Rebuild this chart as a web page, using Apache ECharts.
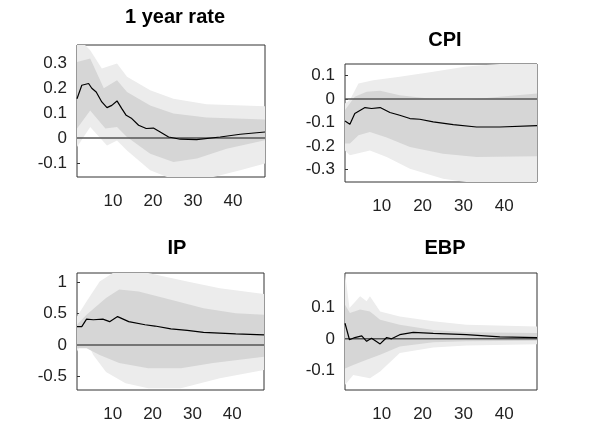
<!DOCTYPE html>
<html><head><meta charset="utf-8">
<script src="https://cdn.jsdelivr.net/npm/echarts@6/dist/echarts.min.js"></script>
<style>html,body{margin:0;padding:0;background:#fff}#c{width:593px;height:438px}</style>
</head><body><div id="c"></div>
<script>
var titles = ['1 year rate', 'CPI', 'IP', 'EBP'];
var xTicks = [10, 20, 30, 40];
var yTicks = [[-0.1, 0, 0.1, 0.2, 0.3], [-0.3, -0.2, -0.1, 0, 0.1], [-0.5, 0, 0.5, 1], [-0.1, 0, 0.1]];
var yRange = [[-0.157, 0.374], [-0.354, 0.15], [-0.718, 1.144], [-0.161, 0.207]];

// [horizon, value]
var rateLine = [[1,0.158],[2.2,0.212],[3.9,0.219],[4.7,0.2],[5.8,0.185],[7.2,0.145],[8.5,0.122],[9.7,0.131],[11,0.149],[12.2,0.118],[13.3,0.091],[14.7,0.078],[16.4,0.051],[18.3,0.038],[20.1,0.04],[21.8,0.024],[23.9,0.004],[26.8,-0.005],[30.9,-0.007],[36.8,0.004],[41.8,0.015],[48,0.024]];
var rateOutUp = [[1,0.374],[3,0.374],[4.3,0.353],[7.2,0.279],[11,0.3],[13.5,0.246],[19.3,0.192],[25.1,0.158],[33.4,0.136],[48,0.128]];
var rateInUp = [[1,0.306],[4.3,0.32],[7.7,0.2],[11,0.232],[13.5,0.185],[19.3,0.131],[25.1,0.098],[33.4,0.082],[48,0.074]];
var rateInLo = [[1,0.038],[4.3,0.111],[8.1,0.038],[11,0.044],[13.5,0.004],[19.3,-0.063],[25.1,-0.097],[31,-0.083],[38.4,-0.043],[48,-0.009]];
var rateOutLo = [[1,-0.036],[4.3,0.044],[8.5,-0.03],[11,-0.01],[13.5,-0.05],[19.3,-0.13],[23.5,-0.157],[35.1,-0.157],[41.8,-0.13],[48,-0.103]];

var cpiLine = [[1,-0.093],[2.2,-0.107],[3.4,-0.061],[5.9,-0.036],[7.5,-0.04],[9.6,-0.036],[12,-0.057],[14.4,-0.069],[16.9,-0.083],[19.3,-0.086],[22.6,-0.097],[27.5,-0.109],[33.2,-0.119],[38.9,-0.119],[48,-0.113]];
var cpiOutUp = [[1,-0.019],[2.2,-0.004],[4.3,0.067],[7.9,0.081],[14.4,0.096],[22.6,0.117],[30.7,0.139],[38.9,0.15],[48,0.15]];
var cpiInUp = [[1,-0.047],[3.4,0.01],[6.3,0.031],[9.6,0.036],[14.4,0.017],[22.6,0],[30.7,-0.004],[38.9,0.01],[48,0.024]];
var cpiInLo = [[1,-0.19],[2.2,-0.19],[4.3,-0.154],[7.1,-0.14],[11.2,-0.164],[16.9,-0.204],[25,-0.233],[33.2,-0.247],[48,-0.244]];
var cpiOutLo = [[1,-0.219],[2.2,-0.24],[7.1,-0.219],[11.2,-0.247],[16.9,-0.297],[25,-0.34],[30.7,-0.354],[48,-0.354]];

var ipLine = [[1,0.29],[2.2,0.29],[3.4,0.41],[5.1,0.4],[7.5,0.41],[9.2,0.37],[11.2,0.45],[14,0.37],[18.1,0.32],[20.6,0.3],[24.6,0.255],[28.7,0.23],[32.8,0.2],[40.9,0.175],[48,0.16]];
var ipOutUp = [[1,0.45],[3.4,0.69],[6.7,1.01],[10,1.144],[18.9,1.144],[28.7,1.01],[36.9,0.9],[48,0.81]];
var ipInUp = [[1,0.32],[3.4,0.48],[8.3,0.745],[11.6,0.88],[16.5,0.85],[24.6,0.72],[32.8,0.585],[40.9,0.505],[48,0.48]];
var ipInLo = [[1,-0.053],[3.4,-0.053],[6.7,-0.16],[11.6,-0.29],[18.9,-0.37],[27.1,-0.37],[35.2,-0.29],[48,-0.19]];
var ipOutLo = [[1,-0.106],[3,0.117],[5.1,-0.16],[8.3,-0.43],[13.2,-0.61],[18.9,-0.69],[27.1,-0.69],[36.9,-0.53],[48,-0.4]];

var ebpLine = [[1,0.049],[2.1,-0.003],[3.4,0.004],[5.1,0.009],[6.3,-0.008],[7.5,0.002],[9.6,-0.016],[11.2,0.004],[12.4,0],[14.4,0.013],[17.7,0.02],[22.6,0.017],[30.7,0.013],[38.9,0.006],[48,0.004]];
var ebpOutUp = [[1,0.207],[2.1,0.097],[4.7,0.134],[6.3,0.118],[7.1,0.134],[9.6,0.086],[14.4,0.07],[22.6,0.055],[30.7,0.044],[48,0.039]];
var ebpInUp = [[1,0.107],[2.2,0.081],[4.7,0.092],[7.1,0.086],[9.6,0.06],[14.4,0.044],[22.6,0.028],[30.7,0.021],[48,0.018]];
var ebpInLo = [[1,-0.093],[3,-0.082],[6.3,-0.066],[9.6,-0.05],[14.4,-0.024],[22.6,-0.011],[30.7,-0.008],[48,-0.006]];
var ebpOutLo = [[1,-0.145],[3,-0.114],[7.1,-0.124],[9.6,-0.103],[14.4,-0.045],[22.6,-0.027],[30.7,-0.021],[48,-0.017]];

var panels = [
  [rateLine, rateOutUp, rateInUp, rateInLo, rateOutLo],
  [cpiLine, cpiOutUp, cpiInUp, cpiInLo, cpiOutLo],
  [ipLine, ipOutUp, ipInUp, ipInLo, ipOutLo],
  [ebpLine, ebpOutUp, ebpInUp, ebpInLo, ebpOutLo]
];
var grids = [
  {left: 77, top: 45, width: 188, height: 132},
  {left: 345, top: 64, width: 192, height: 118},
  {left: 77, top: 273, width: 187, height: 117},
  {left: 345, top: 273, width: 192, height: 117}
];
var titlePos = [[170, 2], [440, 25], [172, 233], [440, 233]];
var font = 'Liberation Sans';

function band(idx, up, lo, color) {
  return {
    type: 'custom', xAxisIndex: idx, yAxisIndex: idx, silent: true, clip: true,
    data: [0],
    renderItem: function (params, api) {
      var pts = up.map(function (p) { return api.coord(p); });
      lo.slice().reverse().forEach(function (p) { pts.push(api.coord(p)); });
      return {type: 'polygon', shape: {points: pts}, style: {fill: color}};
    }
  };
}

var option = {grid: [], xAxis: [], yAxis: [], series: [], title: [], animation: false};
panels.forEach(function (p, i) {
  option.grid.push(Object.assign({show: true, borderColor: '#333', borderWidth: 1, backgroundColor: '#fff'}, grids[i]));
  option.title.push({text: titles[i], left: titlePos[i][0], top: titlePos[i][1], textAlign: 'center',
    textStyle: {fontFamily: font, fontSize: 20, fontWeight: 'bold', color: '#000'}});
  option.xAxis.push({type: 'value', gridIndex: i, min: 1, max: 48, splitLine: {show: false},
    axisLine: {show: false}, axisTick: {inside: true, length: 3, customValues: xTicks, lineStyle: {color: '#333'}},
    axisLabel: {customValues: xTicks, margin: 16, fontFamily: font, fontSize: 17, color: '#222'}});
  option.yAxis.push({type: 'value', gridIndex: i, min: yRange[i][0], max: yRange[i][1], splitLine: {show: false},
    axisLine: {show: false}, axisTick: {inside: true, length: 3, customValues: yTicks[i], lineStyle: {color: '#333'}},
    axisLabel: {customValues: yTicks[i], margin: 10, fontFamily: font, fontSize: 17, color: '#222'}});
  option.series.push(band(i, p[1], p[4], '#ececec'));
  option.series.push(band(i, p[2], p[3], '#d6d6d6'));
  option.series.push({type: 'line', xAxisIndex: i, yAxisIndex: i, data: [[1, 0], [48, 0]], symbol: 'none',
    lineStyle: {color: '#555', width: 1.5}, silent: true});
  option.series.push({type: 'line', xAxisIndex: i, yAxisIndex: i, data: p[0], symbol: 'none',
    lineStyle: {color: '#000', width: 1.2}, silent: true});
});
echarts.init(document.getElementById('c')).setOption(option);
</script>
</body></html>
